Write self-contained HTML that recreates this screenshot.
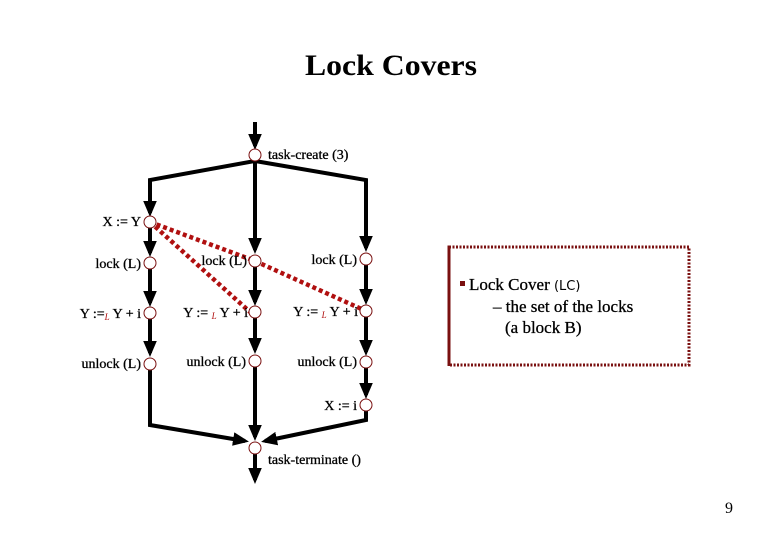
<!DOCTYPE html>
<html><head><style>
body{margin:0;background:#fff;}
svg{display:block;font-family:"Liberation Serif",serif;}
</style></head><body>
<svg width="780" height="540" viewBox="0 0 780 540">
<defs>
<marker id="a" markerWidth="4" markerHeight="3.4" refX="3" refY="1.7" orient="auto" markerUnits="strokeWidth">
<path d="M0,0 L4,1.7 L0,3.4 z" fill="#000"/></marker>
</defs>
<text x="391" y="75" font-size="30" font-weight="bold" text-anchor="middle" font-family="Liberation Serif, serif" textLength="172" lengthAdjust="spacingAndGlyphs">Lock Covers</text>
<g stroke="#000" stroke-width="4" fill="none">
<line x1="255" y1="122" x2="255" y2="146" marker-end="url(#a)"/>
<polyline points="255,161 150,180 150,213" marker-end="url(#a)"/>
<polyline points="255,161 366,180 366,248" marker-end="url(#a)"/>
<line x1="255" y1="161" x2="255" y2="250" marker-end="url(#a)"/>
<line x1="150" y1="228" x2="150" y2="253" marker-end="url(#a)"/>
<line x1="150" y1="269" x2="150" y2="303" marker-end="url(#a)"/>
<line x1="150" y1="319" x2="150" y2="353" marker-end="url(#a)"/>
<line x1="255" y1="267" x2="255" y2="302" marker-end="url(#a)"/>
<line x1="255" y1="318" x2="255" y2="350" marker-end="url(#a)"/>
<line x1="366" y1="265" x2="366" y2="301" marker-end="url(#a)"/>
<line x1="366" y1="317" x2="366" y2="352" marker-end="url(#a)"/>
<line x1="366" y1="368" x2="366" y2="395" marker-end="url(#a)"/>
<polyline points="150,369 150,425 245,441" marker-end="url(#a)"/>
<polyline points="366,411 366,420 265,441" marker-end="url(#a)"/>
<line x1="255" y1="366" x2="255" y2="437" marker-end="url(#a)"/>
<line x1="255" y1="454" x2="255" y2="480" marker-end="url(#a)"/>
</g>
<g stroke="#b01010" stroke-width="4.5" stroke-dasharray="4,3" fill="none">
<polyline points="150,222 255,261 366,311"/>
<line x1="150" y1="222" x2="250" y2="312"/>
</g>
<g fill="#fff" stroke="#7a1010" stroke-width="1">
<circle cx="255" cy="155" r="6"/>
<circle cx="150" cy="222" r="6"/><circle cx="150" cy="263" r="6"/><circle cx="150" cy="313" r="6"/><circle cx="150" cy="364" r="6"/>
<circle cx="255" cy="261" r="6"/><circle cx="255" cy="312" r="6"/><circle cx="255" cy="361" r="6"/>
<circle cx="366" cy="259" r="6"/><circle cx="366" cy="311" r="6"/><circle cx="366" cy="362" r="6"/><circle cx="366" cy="405" r="6"/>
<circle cx="255" cy="448" r="6"/>
</g>
<g font-size="14" fill="#000" stroke="#000" stroke-width="0.3">
<text x="268" y="159">task-create (3)</text>
<text x="141" y="226" text-anchor="end">X := Y</text>
<text x="141" y="268" text-anchor="end">lock (L)</text>
<text x="247" y="265" text-anchor="end">lock (L)</text>
<text x="357" y="264" text-anchor="end">lock (L)</text>
<text x="141" y="318" text-anchor="end">Y :=<tspan font-size="9" fill="#b01010" stroke="none" font-style="italic" dy="2">L</tspan><tspan dy="-2"> Y + i</tspan></text>
<text x="248" y="317" text-anchor="end">Y := <tspan font-size="9" fill="#b01010" stroke="none" font-style="italic" dy="2">L</tspan><tspan dy="-2"> Y + i</tspan></text>
<text x="358" y="316" text-anchor="end">Y := <tspan font-size="9" fill="#b01010" stroke="none" font-style="italic" dy="2">L</tspan><tspan dy="-2"> Y + i</tspan></text>
<text x="141" y="368" text-anchor="end">unlock (L)</text>
<text x="246" y="366" text-anchor="end">unlock (L)</text>
<text x="357" y="366" text-anchor="end">unlock (L)</text>
<text x="357" y="410" text-anchor="end">X := i</text>
<text x="268" y="464">task-terminate ()</text>
</g>
<rect x="449" y="247" width="240" height="118" fill="none" stroke="#7a1010" stroke-width="3" stroke-dasharray="2,1.5"/>
<line x1="449" y1="246" x2="449" y2="366" stroke="#7a1010" stroke-width="3"/>
<rect x="460" y="281" width="5" height="5" fill="#7a1010"/>
<g font-size="17" fill="#000" stroke="#000" stroke-width="0.3">
<text x="469" y="290">Lock Cover <tspan font-family="DejaVu Sans, sans-serif" font-size="13" stroke="none">(LC)</tspan></text>
<text x="493" y="312">–  the set of the locks</text>
<text x="505" y="333">(a block B)</text>
</g>
<text x="729" y="513" font-size="16" font-family="Liberation Serif, serif" text-anchor="middle">9</text>
</svg>
</body></html>
